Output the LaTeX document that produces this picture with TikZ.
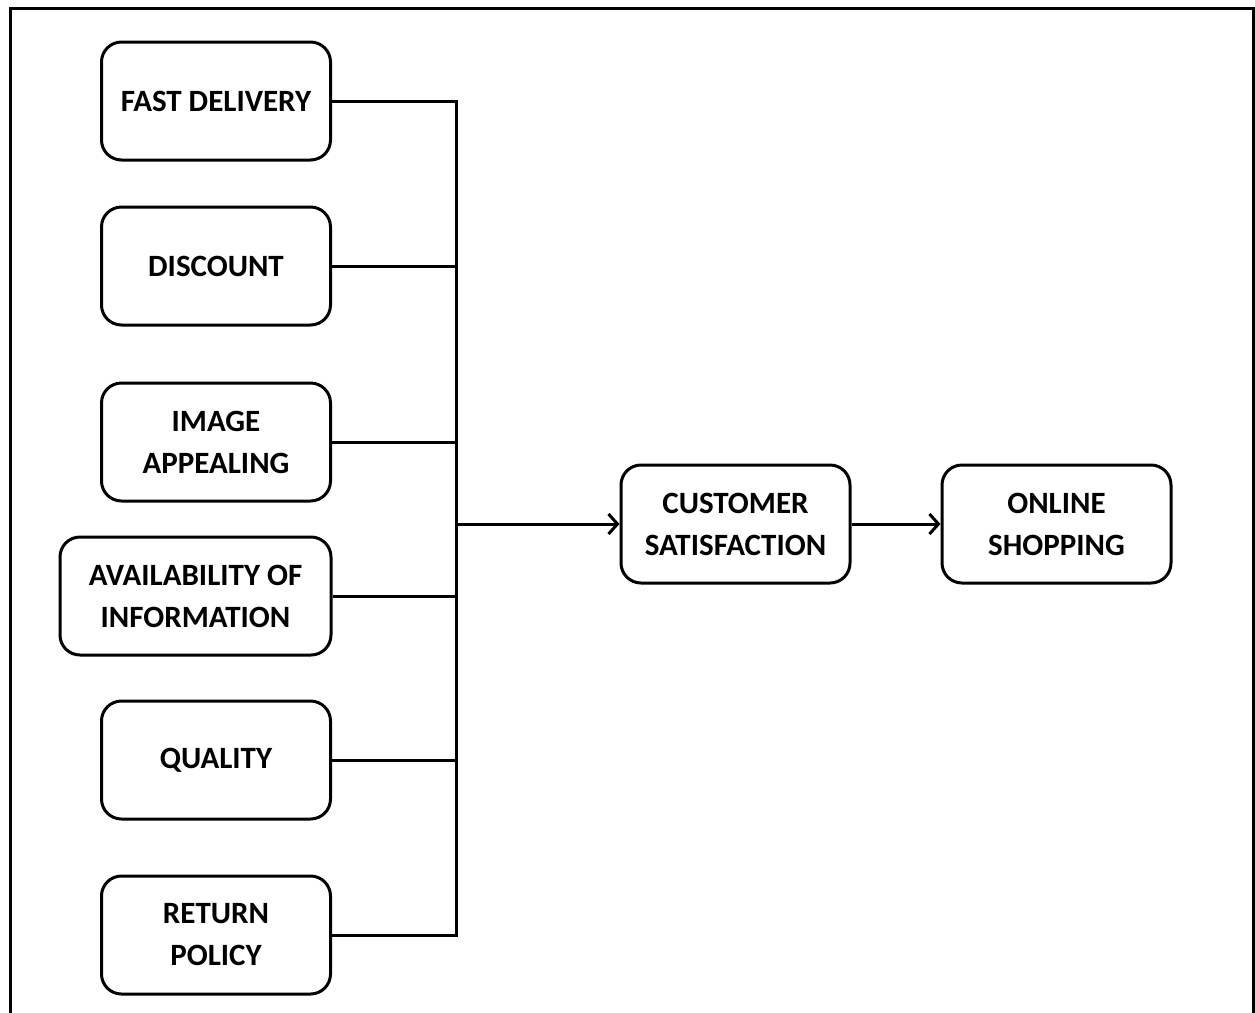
\documentclass[tikz,border=0pt]{standalone}
\usepackage{fontspec}
\setmainfont{Carlito}
\usetikzlibrary{arrows.meta}
\begin{document}
\begin{tikzpicture}[x=1pt,y=-1pt,
  factor/.style={draw,line width=3pt,rounded corners=20pt,
    minimum width=229pt,minimum height=118pt,align=center,
    inner sep=0pt,font=\bfseries\fontsize{31}{42}\selectfont},
  link/.style={line width=3pt},
  flow/.style={line width=3pt,-{Straight Barb[length=9pt,width=20pt,line width=3pt]}}]
\useasboundingbox (0,0) rectangle (1255,1012);
% open outer frame
\draw[line width=3pt] (10,1016) -- (10,8) -- (1253,8) -- (1253,1016);
% factor boxes
\node[factor] (fd) at (216,101) {FAST DELIVERY};
\node[factor] (dc) at (216,266) {DISCOUNT};
\node[factor] (ia) at (216,442) {IMAGE\\APPEALING};
\node[factor,minimum width=271pt] (ai) at (195.5,596) {AVAILABILITY OF\\INFORMATION};
\node[factor] (ql) at (216,760) {QUALITY};
\node[factor] (rp) at (216,935) {RETURN\\POLICY};
% outcome boxes
\node[factor] (cs) at (735.5,524) {CUSTOMER\\SATISFACTION};
\node[factor] (os) at (1056.5,524) {ONLINE\\SHOPPING};
% collecting bus
\coordinate (top) at (456,101);
\coordinate (bot) at (456,935);
\coordinate (mid) at (456,524);
\draw[link] (fd.east) -- (top) -- (bot) -- (rp.east);
\draw[link] (dc.east) -- (dc.east -| top);
\draw[link] (ia.east) -- (ia.east -| top);
\draw[link] (ai.east) -- (ai.east -| top);
\draw[link] (ql.east) -- (ql.east -| top);
\draw[flow] (mid) -- (cs.west);
\draw[flow] (cs.east) -- (os.west);
\end{tikzpicture}
\end{document}
